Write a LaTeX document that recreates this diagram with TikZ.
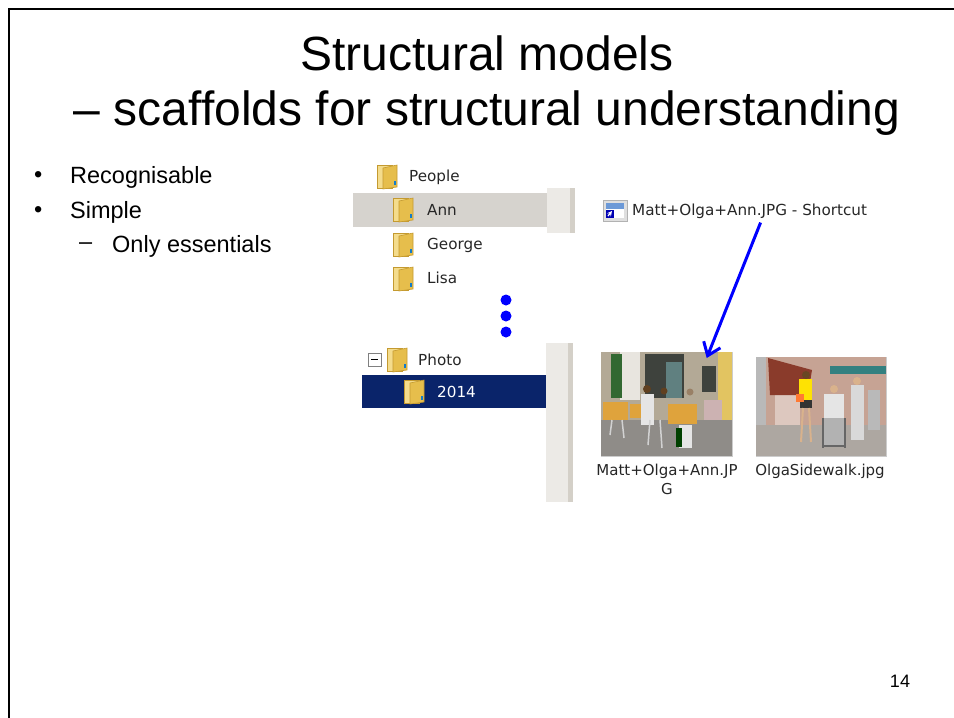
\documentclass[tikz,border=0pt]{standalone}
\usepackage{fontspec}
\setmainfont{Liberation Sans}
\newfontfamily\winfont{DejaVu Sans}
\usetikzlibrary{arrows.meta}
\definecolor{folderback}{HTML}{F4DC8C}
\definecolor{folderfront}{HTML}{E6BE4C}
\definecolor{folderline}{HTML}{C49A30}
\definecolor{selgray}{HTML}{D6D3CE}
\definecolor{selnavy}{HTML}{0A246A}
\definecolor{stipple}{HTML}{ECEAE6}
\definecolor{barline}{HTML}{D4D0C8}
\definecolor{wallA}{HTML}{B3A996}
\definecolor{darkA}{HTML}{3E423D}
\definecolor{tableA}{HTML}{DFA33C}
\definecolor{paveA}{HTML}{8F8C88}
\definecolor{wallB}{HTML}{C6A394}
\definecolor{awningB}{HTML}{8A3B2B}
\definecolor{paveB}{HTML}{ADA7A1}
\tikzset{>=stealth,
  slide/.style={font=\fontsize{23.5}{28}\selectfont, anchor=west, inner sep=0},
  win/.style={font=\winfont\fontsize{15.2}{18}\selectfont, anchor=west, inner sep=0, text=black!85},
  photo/.style={draw=gray!40, inner sep=0, anchor=north west},
  folder/.pic={
    \fill[folderback, draw=folderline, line width=0.6] (0,1) rectangle (15,24);
    \fill[folderfront, draw=folderline, line width=0.6] (6,4) -- (20,1) -- (20,23) -- (6,25) -- cycle;
    \fill[cyan!60!blue] (17,17) rectangle (18.5,21);
  }}

\begin{document}
\begin{tikzpicture}[x=1pt,y=-1pt]
    \useasboundingbox (0,0) rectangle (954,718);
    \draw[line width=2.5] (9,718) -- (9,9) -- (954,9);

    % title
    \node[align=center, font=\fontsize{48}{55}\selectfont] (title) at (487,86)
        {Structural models\\– scaffolds for structural understanding};

    % bullets
    \node[slide] (b1) at (34,177) {\textbullet};
    \node[slide] (b2) at (34,212) {\textbullet};
    \node[slide] (recog) at (70,177) {Recognisable};
    \node[slide] (simple) at (70,212) {Simple};
    \node[slide] (dash) at (79,246) {–};
    \node[slide] (ess) at (112,246) {Only essentials};

    % folder tree
    \fill[selgray] (353,193) rectangle (547,227);
    \fill[stipple] (547,188) rectangle (575,233);
    \fill[barline] (570,188) rectangle (575,233);
    \fill[selnavy] (362,375) rectangle (546,408);
    \fill[stipple] (546,343) rectangle (573,502);
    \fill[barline] (568,343) rectangle (573,502);

    \pic at (377,164) {folder};
    \pic at (393,197) {folder};
    \pic at (393,232) {folder};
    \pic at (393,266) {folder};
    \pic at (387,347) {folder};
    \pic at (404,379) {folder};
    \node[win] (people) at (409,177) {People};
    \node[win] (ann) at (427,210) {Ann};
    \node[win] (george) at (427,245) {George};
    \node[win] (lisa) at (427,278) {Lisa};
    \node[win] (photo) at (418,360) {Photo};
    \node[win, text=white] (y2014) at (437,392) {2014};
    \draw[gray, fill=white, line width=0.8] (368,353) rectangle (381,366);
    \draw[black, line width=1] (371,359.5) -- (378,359.5);

    \foreach \y in {300,316,332}
        \fill[blue] (506,\y) circle (5.5);

    % shortcut
    \fill[gray!25, draw=gray!60] (603,200) rectangle (627,221);
    \fill[white] (606,203) rectangle (624,218);
    \fill[cyan!50!blue!60] (606,203) rectangle (624,209);
    \fill[blue!70!black] (606,210) rectangle (614,218);
    \draw[white, line width=1.2, ->] (608,216) -- (612,211);
    \node[win] (shortcut) at (632,211) {Matt+Olga+Ann.JPG - Shortcut};

    % photos
    \node[photo, minimum width=131, minimum height=104] (photoA) at (601,352) {};
    \begin{scope}
        \clip (601,352) rectangle (732,456);
        \fill[wallA] (601,352) rectangle (732,425);
        \fill[white!70!wallA] (620,352) rectangle (640,400);
        \fill[darkA!80!green] (611,354) rectangle (622,398);
        \fill[darkA] (645,354) rectangle (684,398);
        \fill[teal!25!gray] (666,362) rectangle (682,398);
        \fill[darkA] (702,366) rectangle (716,392);
        \fill[yellow!40!brown!80] (718,352) rectangle (732,425);
        \fill[paveA] (601,420) rectangle (732,456);
        \fill[tableA] (603,402) rectangle (628,420);
        \fill[tableA] (630,404) rectangle (642,418);
        \fill[tableA] (668,404) rectangle (697,424);
        \fill[white!80!gray] (641,394) rectangle (654,425);
        \fill[brown!50!black] (647,389) circle (4);
        \fill[brown!50!black] (664,391) circle (3.5);
        \fill[brown!40!gray] (690,392) circle (3.5);
        \fill[pink!50!gray!80] (704,400) rectangle (722,420);
        \fill[white!80!gray] (679,425) rectangle (692,448);
        \fill[green!25!black] (676,428) rectangle (682,447);
        \draw[gray!35, line width=1.5] (650,420) -- (648,445) (660,420) -- (662,448)
            (612,420) -- (610,435) (622,420) -- (624,438);
    \end{scope}

    \node[photo, minimum width=130, minimum height=99] (photoB) at (756,357) {};
    \begin{scope}
        \clip (756,357) rectangle (886,456);
        \fill[wallB] (756,357) rectangle (886,425);
        \fill[white!40!wallB] (775,395) rectangle (800,425);
        \fill[awningB] (768,358) -- (812,370) -- (808,395) -- (770,395) -- cycle;
        \fill[teal!60!gray] (830,366) rectangle (886,374);
        \fill[gray!55] (756,357) rectangle (766,440);
        \fill[paveB] (756,425) rectangle (886,456);
        \fill[yellow!85!orange] (799,379) rectangle (812,400);
        \fill[black!80] (800,400) rectangle (812,408);
        \fill[orange!70!red!80] (796,394) rectangle (804,402);
        \draw[brown!60, line width=2] (803,408) -- (801,442) (809,408) -- (811,442);
        \fill[brown!55!black] (806,375) circle (4);
        \fill[white!80!gray] (824,394) rectangle (844,418);
        \fill[gray!60] (824,418) rectangle (844,446);
        \draw[black!60, line width=1.2] (823,418) -- (823,448) (845,418) -- (845,448)
            (824,446) -- (844,446);
        \fill[brown!60] (834,389) circle (4);
        \fill[gray!30] (851,385) rectangle (864,440);
        \fill[brown!60] (857,381) circle (4);
        \fill[gray!55] (868,390) rectangle (880,430);
    \end{scope}
    \node[win, anchor=north, align=center, font=\winfont\fontsize{15}{19}\selectfont] (capA)
        at (667,464) {Matt+Olga+Ann.JP\\G};
    \node[win, anchor=north, font=\winfont\fontsize{15}{19}\selectfont] (capB)
        at (820,464) {OlgaSidewalk.jpg};

    \draw[blue, line width=3, -{Straight Barb[length=12pt, width=18pt]}]
        ([xshift=11pt, yshift=-4pt]shortcut.south) -- ([xshift=40pt, yshift=-6pt]photoA.north);

    \node[font=\fontsize{18}{20}\selectfont] (pageno) at (900,681) {14};
\end{tikzpicture}
\end{document}
